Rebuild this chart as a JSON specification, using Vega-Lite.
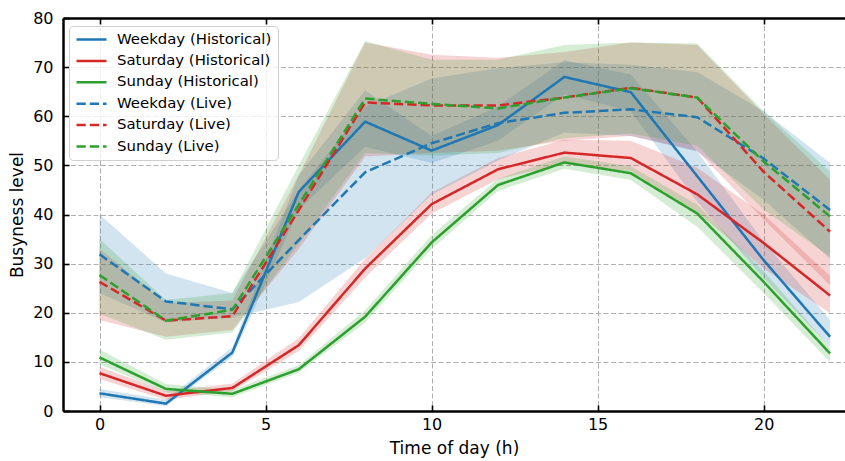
{
  "$schema": "https://vega.github.io/schema/vega-lite/v6.json",
  "autosize": "none",
  "padding": {"left": 63, "top": 18, "right": 0, "bottom": 50},
  "width": 782,
  "height": 393,
  "background": "white",
  "config": {
    "view": {"stroke": null},
    "font": "DejaVu Sans",
    "axis": {
      "labelFont": "DejaVu Sans", "labelFontSize": 16, "labelColor": "black",
      "titleFont": "DejaVu Sans", "titleFontSize": 17, "titleFontWeight": "normal", "titleColor": "black",
      "domainColor": "black", "domainWidth": 2.5, "tickColor": "black", "tickWidth": 1.6, "tickSize": 6,
      "gridColor": "#b0b0b0", "gridDash": [5, 2.5], "gridWidth": 1
    },
    "legend": {
      "labelFont": "DejaVu Sans", "labelFontSize": 14.9, "labelColor": "black"
    }
  },
  "data": {"values": [
    {"hour": 0, "series": "Weekday (Historical)", "value": 3.6, "lo": 2.8, "hi": 4.5},
    {"hour": 2, "series": "Weekday (Historical)", "value": 1.5, "lo": 1.0, "hi": 2.3},
    {"hour": 4, "series": "Weekday (Historical)", "value": 11.9, "lo": 11.0, "hi": 13.0},
    {"hour": 6, "series": "Weekday (Historical)", "value": 44.6, "lo": 41.0, "hi": 48.0},
    {"hour": 8, "series": "Weekday (Historical)", "value": 58.9, "lo": 53.8, "hi": 65.3},
    {"hour": 10, "series": "Weekday (Historical)", "value": 53.0, "lo": 50.5, "hi": 56.0},
    {"hour": 12, "series": "Weekday (Historical)", "value": 58.2, "lo": 55.0, "hi": 62.0},
    {"hour": 14, "series": "Weekday (Historical)", "value": 68.0, "lo": 64.5, "hi": 71.4},
    {"hour": 16, "series": "Weekday (Historical)", "value": 64.9, "lo": 61.0, "hi": 68.5},
    {"hour": 18, "series": "Weekday (Historical)", "value": 47.8, "lo": 42.6, "hi": 52.8},
    {"hour": 20, "series": "Weekday (Historical)", "value": 30.7, "lo": 27.0, "hi": 34.5},
    {"hour": 22, "series": "Weekday (Historical)", "value": 15.1, "lo": 13.1, "hi": 18.5},
    {"hour": 0, "series": "Saturday (Historical)", "value": 7.7, "lo": 6.5, "hi": 9.0},
    {"hour": 2, "series": "Saturday (Historical)", "value": 3.1, "lo": 2.3, "hi": 4.0},
    {"hour": 4, "series": "Saturday (Historical)", "value": 4.7, "lo": 4.0, "hi": 5.6},
    {"hour": 6, "series": "Saturday (Historical)", "value": 13.4, "lo": 12.2, "hi": 14.8},
    {"hour": 8, "series": "Saturday (Historical)", "value": 29.0, "lo": 27.2, "hi": 31.0},
    {"hour": 10, "series": "Saturday (Historical)", "value": 42.1, "lo": 40.2, "hi": 44.5},
    {"hour": 12, "series": "Saturday (Historical)", "value": 49.2, "lo": 47.2, "hi": 51.5},
    {"hour": 14, "series": "Saturday (Historical)", "value": 52.6, "lo": 50.3, "hi": 55.2},
    {"hour": 16, "series": "Saturday (Historical)", "value": 51.5, "lo": 48.8, "hi": 55.0},
    {"hour": 18, "series": "Saturday (Historical)", "value": 44.1, "lo": 40.5, "hi": 49.5},
    {"hour": 20, "series": "Saturday (Historical)", "value": 34.2, "lo": 29.0, "hi": 40.0},
    {"hour": 22, "series": "Saturday (Historical)", "value": 23.5, "lo": 19.9, "hi": 27.5},
    {"hour": 0, "series": "Sunday (Historical)", "value": 10.9, "lo": 9.5, "hi": 12.5},
    {"hour": 2, "series": "Sunday (Historical)", "value": 4.5, "lo": 3.8, "hi": 5.5},
    {"hour": 4, "series": "Sunday (Historical)", "value": 3.5, "lo": 2.8, "hi": 4.3},
    {"hour": 6, "series": "Sunday (Historical)", "value": 8.5, "lo": 7.8, "hi": 9.3},
    {"hour": 8, "series": "Sunday (Historical)", "value": 19.2, "lo": 18.0, "hi": 20.5},
    {"hour": 10, "series": "Sunday (Historical)", "value": 34.3, "lo": 33.0, "hi": 35.8},
    {"hour": 12, "series": "Sunday (Historical)", "value": 46.0, "lo": 44.8, "hi": 47.3},
    {"hour": 14, "series": "Sunday (Historical)", "value": 50.6, "lo": 49.3, "hi": 51.8},
    {"hour": 16, "series": "Sunday (Historical)", "value": 48.4, "lo": 47.0, "hi": 49.8},
    {"hour": 18, "series": "Sunday (Historical)", "value": 40.2, "lo": 37.5, "hi": 42.0},
    {"hour": 20, "series": "Sunday (Historical)", "value": 26.3, "lo": 24.0, "hi": 28.5},
    {"hour": 22, "series": "Sunday (Historical)", "value": 11.7, "lo": 10.0, "hi": 13.0},
    {"hour": 0, "series": "Weekday (Live)", "value": 31.9, "lo": 24.0, "hi": 40.0},
    {"hour": 2, "series": "Weekday (Live)", "value": 22.3, "lo": 18.0, "hi": 28.0},
    {"hour": 4, "series": "Weekday (Live)", "value": 20.7, "lo": 19.0, "hi": 24.0},
    {"hour": 6, "series": "Weekday (Live)", "value": 34.8, "lo": 22.2, "hi": 45.0},
    {"hour": 8, "series": "Weekday (Live)", "value": 48.6, "lo": 31.1, "hi": 62.0},
    {"hour": 10, "series": "Weekday (Live)", "value": 54.5, "lo": 44.0, "hi": 67.7},
    {"hour": 12, "series": "Weekday (Live)", "value": 58.6, "lo": 51.0, "hi": 69.8},
    {"hour": 14, "series": "Weekday (Live)", "value": 60.7, "lo": 56.7, "hi": 71.0},
    {"hour": 16, "series": "Weekday (Live)", "value": 61.4, "lo": 56.0, "hi": 70.5},
    {"hour": 18, "series": "Weekday (Live)", "value": 59.8, "lo": 52.8, "hi": 69.0},
    {"hour": 20, "series": "Weekday (Live)", "value": 51.4, "lo": 43.0, "hi": 61.0},
    {"hour": 22, "series": "Weekday (Live)", "value": 40.9, "lo": 31.0, "hi": 50.5},
    {"hour": 0, "series": "Saturday (Live)", "value": 26.3, "lo": 18.5, "hi": 33.0},
    {"hour": 2, "series": "Saturday (Live)", "value": 18.4, "lo": 15.1, "hi": 22.0},
    {"hour": 4, "series": "Saturday (Live)", "value": 19.3, "lo": 16.5, "hi": 22.5},
    {"hour": 6, "series": "Saturday (Live)", "value": 40.9, "lo": 33.0, "hi": 48.0},
    {"hour": 8, "series": "Saturday (Live)", "value": 62.8, "lo": 51.8, "hi": 75.0},
    {"hour": 10, "series": "Saturday (Live)", "value": 62.2, "lo": 52.5, "hi": 72.5},
    {"hour": 12, "series": "Saturday (Live)", "value": 62.2, "lo": 53.0, "hi": 71.9},
    {"hour": 14, "series": "Saturday (Live)", "value": 63.8, "lo": 55.0, "hi": 73.1},
    {"hour": 16, "series": "Saturday (Live)", "value": 65.8, "lo": 56.0, "hi": 75.0},
    {"hour": 18, "series": "Saturday (Live)", "value": 63.8, "lo": 53.0, "hi": 74.5},
    {"hour": 20, "series": "Saturday (Live)", "value": 48.7, "lo": 39.0, "hi": 60.5},
    {"hour": 22, "series": "Saturday (Live)", "value": 36.5, "lo": 25.6, "hi": 47.0},
    {"hour": 0, "series": "Sunday (Live)", "value": 27.7, "lo": 19.8, "hi": 35.0},
    {"hour": 2, "series": "Sunday (Live)", "value": 18.4, "lo": 14.5, "hi": 22.6},
    {"hour": 4, "series": "Sunday (Live)", "value": 20.6, "lo": 16.0, "hi": 24.0},
    {"hour": 6, "series": "Sunday (Live)", "value": 42.0, "lo": 34.0, "hi": 50.0},
    {"hour": 8, "series": "Sunday (Live)", "value": 63.6, "lo": 52.5, "hi": 75.3},
    {"hour": 10, "series": "Sunday (Live)", "value": 62.5, "lo": 52.0, "hi": 71.5},
    {"hour": 12, "series": "Sunday (Live)", "value": 61.6, "lo": 52.5, "hi": 71.5},
    {"hour": 14, "series": "Sunday (Live)", "value": 63.8, "lo": 55.5, "hi": 74.5},
    {"hour": 16, "series": "Sunday (Live)", "value": 65.7, "lo": 56.5, "hi": 75.0},
    {"hour": 18, "series": "Sunday (Live)", "value": 63.8, "lo": 54.0, "hi": 74.8},
    {"hour": 20, "series": "Sunday (Live)", "value": 50.8, "lo": 41.0, "hi": 61.0},
    {"hour": 22, "series": "Sunday (Live)", "value": 39.6, "lo": 31.4, "hi": 48.7}
  ]},
  "resolve": {"axis": {"x": "independent", "y": "independent"}},
  "layer": [
    {
      "mark": {"type": "area", "fillOpacity": 0.2},
      "encoding": {
        "x": {"field": "hour", "type": "quantitative",
              "scale": {"domain": [-1.1, 22.45], "nice": false, "zero": false},
              "axis": {"values": [0, 5, 10, 15, 20], "title": null, "labels": false, "ticks": false, "domain": true, "grid": true}},
        "y": {"field": "lo", "type": "quantitative",
              "scale": {"domain": [0, 80], "nice": false, "zero": false},
              "axis": {"values": [0, 10, 20, 30, 40, 50, 60, 70, 80], "title": null, "labels": false, "ticks": false, "domain": true, "grid": true}},
        "y2": {"field": "hi"},
        "color": {"field": "series", "type": "nominal",
                 "scale": {"domain": ["Weekday (Historical)", "Saturday (Historical)", "Sunday (Historical)", "Weekday (Live)", "Saturday (Live)", "Sunday (Live)"],
                           "range": ["#1f77b4", "#d62728", "#2ca02c", "#1f77b4", "#d62728", "#2ca02c"]}}
      }
    },
    {
      "mark": {"type": "line", "strokeWidth": 2.5},
      "encoding": {
        "x": {"field": "hour", "type": "quantitative", "axis": null},
        "y": {"field": "value", "type": "quantitative", "axis": null},
        "color": {"field": "series", "type": "nominal", "title": null,
                   "legend": {"orient": "none", "legendX": 6, "legendY": 8, "symbolType": "stroke", "symbolSize": 900, "symbolStrokeWidth": 2.5, "symbolOpacity": 1,
                              "clipHeight": 15, "labelOffset": 9, "rowPadding": 5.4, "padding": 6, "strokeColor": "#d0d0d0", "fillColor": "rgba(255,255,255,0.8)", "cornerRadius": 4}},
        "strokeDash": {"field": "series", "type": "nominal", "title": null,
                       "scale": {"domain": ["Weekday (Historical)", "Saturday (Historical)", "Sunday (Historical)", "Weekday (Live)", "Saturday (Live)", "Sunday (Live)"],
                                 "range": [[1, 0], [1, 0], [1, 0], [9.25, 4], [9.25, 4], [9.25, 4]]}}
      }
    },
    {
      "mark": {"type": "line", "strokeOpacity": 0},
      "encoding": {
        "x": {"field": "hour", "type": "quantitative",
              "axis": {"orient": "bottom", "offset": -6, "values": [0, 5, 10, 15, 20], "title": "Time of day (h)", "domain": false, "grid": false, "labelPadding": 5, "titlePadding": 8}},
        "y": {"field": "value", "type": "quantitative",
              "axis": {"orient": "left", "offset": -6, "values": [0, 10, 20, 30, 40, 50, 60, 70, 80], "title": "Busyness level", "domain": false, "grid": false, "labelPadding": 10, "titlePadding": 6}},
        "detail": {"field": "series"}
      }
    },
    {
      "mark": {"type": "line", "strokeOpacity": 0},
      "encoding": {
        "x": {"field": "hour", "type": "quantitative",
              "axis": {"orient": "top", "offset": -6, "values": [0, 5, 10, 15, 20], "title": null, "labels": false, "domain": false, "grid": false}},
        "y": {"field": "value", "type": "quantitative", "axis": null},
        "detail": {"field": "series"}
      }
    },
    {
      "mark": {"type": "line", "strokeOpacity": 0},
      "encoding": {
        "x": {"field": "hour", "type": "quantitative",
              "axis": {"orient": "top", "values": [0, 5, 10, 15, 20], "title": null, "labels": false, "ticks": false, "domain": true, "grid": false}},
        "y": {"field": "value", "type": "quantitative", "axis": null},
        "detail": {"field": "series"}
      }
    }
  ]
}
